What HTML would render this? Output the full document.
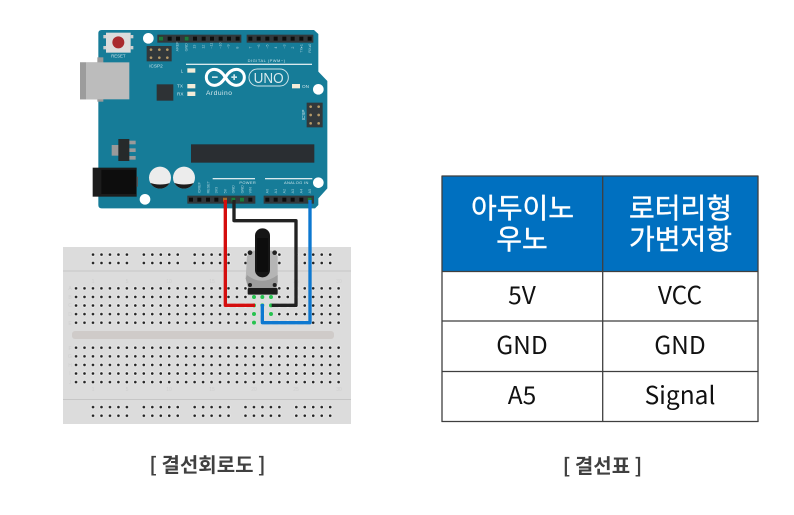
<!DOCTYPE html>
<html><head><meta charset="utf-8">
<style>
html,body{margin:0;padding:0;background:#fff;width:794px;height:515px;overflow:hidden}
svg{display:block}
text{font-family:"Liberation Sans","Noto Sans CJK KR",sans-serif}
.k{font-family:"Noto Sans CJK KR","Liberation Sans",sans-serif}
</style></head>
<body>
<svg width="794" height="515" viewBox="0 0 794 515" xmlns="http://www.w3.org/2000/svg">
<defs>
<filter id="b" x="-5%" y="-5%" width="110%" height="110%"><feGaussianBlur stdDeviation="0.35"/></filter>
<clipPath id="c1"><circle cx="240" cy="473" r="33"/></clipPath>
<clipPath id="c2"><circle cx="312" cy="473" r="33"/></clipPath>
<pattern id="pm" patternUnits="userSpaceOnUse" x="71.8" y="284" width="8.47" height="8.6">
  <circle cx="4.235" cy="4.3" r="2.1" fill="#f4f4f4"/><circle cx="4.235" cy="4.3" r="1.35" fill="#222"/>
</pattern>
<pattern id="pl" patternUnits="userSpaceOnUse" x="71.8" y="343.4" width="8.47" height="8.6">
  <circle cx="4.235" cy="4.3" r="2.1" fill="#f4f4f4"/><circle cx="4.235" cy="4.3" r="1.35" fill="#222"/>
</pattern>
<pattern id="pr" patternUnits="userSpaceOnUse" x="88.8" y="250.4" width="8.47" height="8.4">
  <circle cx="4.235" cy="4.2" r="2.1" fill="#f4f4f4"/><circle cx="4.235" cy="4.2" r="1.35" fill="#222"/>
</pattern>
<pattern id="pr2" patternUnits="userSpaceOnUse" x="88.8" y="402.8" width="8.47" height="8.6">
  <circle cx="4.235" cy="4.3" r="2.1" fill="#f4f4f4"/><circle cx="4.235" cy="4.3" r="1.35" fill="#222"/>
</pattern>
</defs>

<g filter="url(#b)">
<!-- Breadboard -->
<rect x="63" y="247" width="288" height="177" fill="#dcdcdc"/>
<rect x="63" y="270.5" width="288" height="1" fill="#c6c6c6"/>
<rect x="63" y="399" width="288" height="1" fill="#c6c6c6"/>
<rect x="72" y="331" width="262" height="8" rx="3" fill="#cfcbc9"/>
<rect x="71.8" y="284" width="271" height="43" fill="url(#pm)"/>
<rect x="71.8" y="343.4" width="271" height="43" fill="url(#pl)"/>
<g fill="url(#pr)">
<rect x="88.8" y="250.4" width="42.35" height="16.8"/>
<rect x="139.8" y="250.4" width="42.35" height="16.8"/>
<rect x="190.8" y="250.4" width="42.35" height="16.8"/>
<rect x="241.8" y="250.4" width="42.35" height="16.8"/>
<rect x="292.8" y="250.4" width="42.35" height="16.8"/>
</g>
<g fill="url(#pr2)">
<rect x="88.8" y="402.8" width="42.35" height="17.2"/>
<rect x="139.8" y="402.8" width="42.35" height="17.2"/>
<rect x="190.8" y="402.8" width="42.35" height="17.2"/>
<rect x="241.8" y="402.8" width="42.35" height="17.2"/>
<rect x="292.8" y="402.8" width="42.35" height="17.2"/>
</g>
<g font-size="5" fill="#cfcfcf" text-anchor="middle">
<text x="93" y="283">1</text><text x="127" y="283">5</text><text x="169" y="283">10</text><text x="212" y="283">15</text><text x="254" y="283">20</text><text x="296" y="283">25</text><text x="339" y="283">30</text>
<text x="93" y="391">1</text><text x="127" y="391">5</text><text x="169" y="391">10</text><text x="212" y="391">15</text><text x="254" y="391">20</text><text x="296" y="391">25</text><text x="339" y="391">30</text>
<text x="70" y="290">A</text><text x="70" y="299">B</text><text x="70" y="307">C</text><text x="70" y="316">D</text><text x="70" y="325">E</text>
<text x="70" y="350">F</text><text x="70" y="358">G</text><text x="70" y="367">H</text><text x="70" y="375">I</text><text x="70" y="384">J</text>
</g>

<!-- Arduino, coordinates in 3x crop units -->
<g transform="translate(80,20) scale(0.33333)">
<rect x="0" y="127" width="60" height="111" fill="#a9a9a9"/>
<path d="M65,30H702L715,42V155L742,183V505L715,535V555L705,565H65Q55,565 55,555V40Q55,30 65,30Z" fill="#127c98"/>
<rect x="52" y="112" width="18" height="20" fill="#9a9a9a"/>
<rect x="52" y="235" width="18" height="10" fill="#9a9a9a"/>
<rect x="0" y="127" width="18" height="111" fill="#9c9c9c"/>
<rect x="18" y="127" width="130" height="111" fill="#bcbcbc"/>
<!-- reset -->
<rect x="78" y="38" width="74" height="60" fill="#dcdcdc"/>
<rect x="70" y="45" width="8" height="10" fill="#cfcfcf"/><rect x="70" y="78" width="8" height="10" fill="#cfcfcf"/>
<rect x="152" y="45" width="8" height="10" fill="#cfcfcf"/><rect x="152" y="78" width="8" height="10" fill="#cfcfcf"/>
<circle cx="115" cy="67" r="18" fill="#a92a2e"/>
<text x="115" y="112" font-size="13" fill="#cfe4ea" text-anchor="middle">RESET</text>
<!-- holes -->
<circle cx="205" cy="55" r="16" fill="#fff"/><circle cx="715" cy="208" r="16" fill="#fff"/>
<circle cx="715" cy="488" r="16" fill="#fff"/><circle cx="195" cy="538" r="16" fill="#fff"/>
<!-- headers -->
<g fill="#33383a">
<rect x="232" y="44" width="252" height="24"/><rect x="500" y="44" width="200" height="24"/>
<rect x="322" y="527" width="204" height="24"/><rect x="551" y="527" width="151" height="24"/>
</g>
<g fill="#0d0d0d">
<rect x="237" y="50" width="12" height="12"/><rect x="263" y="50" width="12" height="12"/><rect x="288" y="50" width="12" height="12"/><rect x="314" y="50" width="12" height="12"/><rect x="339" y="50" width="12" height="12"/><rect x="365" y="50" width="12" height="12"/><rect x="390" y="50" width="12" height="12"/><rect x="416" y="50" width="12" height="12"/><rect x="441" y="50" width="12" height="12"/><rect x="467" y="50" width="12" height="12"/>
<rect x="505" y="50" width="12" height="12"/><rect x="530" y="50" width="12" height="12"/><rect x="556" y="50" width="12" height="12"/><rect x="581" y="50" width="12" height="12"/><rect x="607" y="50" width="12" height="12"/><rect x="632" y="50" width="12" height="12"/><rect x="658" y="50" width="12" height="12"/><rect x="683" y="50" width="12" height="12"/>
<rect x="327" y="533" width="12" height="12"/><rect x="352" y="533" width="12" height="12"/><rect x="378" y="533" width="12" height="12"/><rect x="403" y="533" width="12" height="12"/><rect x="429" y="533" width="12" height="12"/><rect x="454" y="533" width="12" height="12"/><rect x="480" y="533" width="12" height="12"/><rect x="505" y="533" width="12" height="12"/>
<rect x="556" y="533" width="12" height="12"/><rect x="581" y="533" width="12" height="12"/><rect x="607" y="533" width="12" height="12"/><rect x="632" y="533" width="12" height="12"/><rect x="658" y="533" width="12" height="12"/><rect x="683" y="533" width="12" height="12"/>
</g>
<g fill="#1f7a3a">
<rect x="237" y="50" width="12" height="12"/><rect x="314" y="50" width="12" height="12"/>
<rect x="454" y="533" width="12" height="12"/><rect x="480" y="533" width="12" height="12"/><rect x="683" y="533" width="12" height="12"/>
</g>
<rect x="429" y="533" width="12" height="12" fill="#a8682a"/>
<!-- ICSP -->
<rect x="200" y="78" width="75" height="46" fill="#33383a"/>
<rect x="680" y="248" width="48" height="74" fill="#33383a"/>
<g fill="#b59a68">
<circle cx="213" cy="89" r="4"/><circle cx="238" cy="89" r="4"/><circle cx="262" cy="89" r="4"/>
<circle cx="213" cy="113" r="4"/><circle cx="238" cy="113" r="4"/><circle cx="262" cy="113" r="4"/>
<circle cx="692" cy="260" r="4"/><circle cx="716" cy="260" r="4"/>
<circle cx="692" cy="285" r="4"/><circle cx="716" cy="285" r="4"/>
<circle cx="692" cy="310" r="4"/><circle cx="716" cy="310" r="4"/>
</g>
<text x="228" y="143" font-size="14" fill="#cfe4ea" text-anchor="middle">ICSP2</text>
<text transform="translate(675,285) rotate(-90)" font-size="14" fill="#cfe4ea" text-anchor="middle">ICSP</text>
<!-- labels -->
<g font-size="14" fill="#cfe4ea">
<text x="302" y="158">L</text><text x="291" y="203">TX</text><text x="291" y="227">RX</text><text x="666" y="204">ON</text>
<text x="503" y="126" font-size="12" letter-spacing="1.5">DIGITAL (PWM~)</text>
<text x="478" y="492" font-size="12" letter-spacing="1">POWER</text>
<text x="612" y="492" font-size="12" letter-spacing="1">ANALOG IN</text>
</g>
<g fill="#d9e9ed">
<rect x="318" y="131" width="378" height="4"/><rect x="398" y="474" width="127" height="4"/><rect x="555" y="474" width="142" height="4"/>
</g>
<g font-size="11" fill="#a9cfd9">
<text transform="translate(296,94) rotate(-90)">AREF</text><text transform="translate(322,94) rotate(-90)">GND</text>
<text transform="translate(347,86) rotate(-90)">13</text><text transform="translate(373,86) rotate(-90)">12</text><text transform="translate(398,86) rotate(-90)">~11</text><text transform="translate(424,86) rotate(-90)">~10</text><text transform="translate(449,86) rotate(-90)">~9</text><text transform="translate(475,86) rotate(-90)">8</text>
<text transform="translate(515,86) rotate(-90)">7</text><text transform="translate(540,86) rotate(-90)">~6</text><text transform="translate(566,86) rotate(-90)">~5</text><text transform="translate(591,86) rotate(-90)">4</text><text transform="translate(617,86) rotate(-90)">~3</text><text transform="translate(642,86) rotate(-90)">2</text><text transform="translate(668,98) rotate(-90)">TX▸1</text><text transform="translate(693,98) rotate(-90)">RX◂0</text>
<text transform="translate(362,520) rotate(-90)">IOREF</text><text transform="translate(388,520) rotate(-90)">RESET</text><text transform="translate(413,520) rotate(-90)">3V3</text><text transform="translate(439,520) rotate(-90)">5V</text><text transform="translate(464,520) rotate(-90)">GND</text><text transform="translate(490,520) rotate(-90)">GND</text><text transform="translate(515,520) rotate(-90)">VIN</text>
<text transform="translate(566,520) rotate(-90)">A0</text><text transform="translate(591,520) rotate(-90)">A1</text><text transform="translate(617,520) rotate(-90)">A2</text><text transform="translate(642,520) rotate(-90)">A3</text><text transform="translate(668,520) rotate(-90)">A4</text><text transform="translate(693,520) rotate(-90)">A5</text>
</g>
<!-- LEDs -->
<g fill="#f3ecd8">
<rect x="322" y="145" width="24" height="13"/><rect x="322" y="192" width="24" height="13"/><rect x="322" y="215" width="24" height="13"/><rect x="636" y="192" width="24" height="13"/>
</g>
<!-- logo -->
<g fill="none" stroke="#fff">
<path d="M436,172C424,152 412,148 403,148C389,148 379,159 379,172C379,185 389,196 403,196C412,196 424,192 436,172C448,152 460,148 469,148C483,148 493,159 493,172C493,185 483,196 469,196C460,196 448,192 436,172Z" stroke-width="9"/>
<rect x="507" y="147" width="118" height="51" rx="25" stroke="#cfe4ea" stroke-width="3"/>
</g>
<rect x="396" y="169" width="17" height="5" fill="#cfe4ea"/>
<rect x="454" y="169" width="17" height="5" fill="#cfe4ea"/><rect x="460" y="163" width="5" height="17" fill="#cfe4ea"/>
<text x="566" y="189" font-size="44" fill="#d9e9ed" text-anchor="middle" textLength="90" lengthAdjust="spacingAndGlyphs">UNO</text>
<text x="378" y="225" font-size="20" fill="#d9e9ed" letter-spacing="1.5">Arduino</text>
<!-- chips -->
<rect x="230" y="193" width="50" height="49" fill="#2f3335"/>
<rect x="333" y="373" width="370" height="55" fill="#2b2f31"/>
<rect x="95" y="375" width="22" height="32" fill="#9a9a9a"/>
<rect x="147" y="362" width="20" height="11" fill="#9a9a9a"/><rect x="147" y="385" width="20" height="11" fill="#9a9a9a"/><rect x="147" y="408" width="20" height="11" fill="#9a9a9a"/>
<rect x="115" y="357" width="33" height="66" fill="#262a2c"/>
<!-- jack -->
<rect x="38" y="443" width="132" height="87" fill="#1a1a1a"/>
<rect x="64" y="450" width="104" height="72" fill="#111"/>
<rect x="170" y="470" width="4" height="30" fill="#555"/>
<!-- caps -->
<g clip-path="url(#c1)"><rect x="205" y="438" width="70" height="70" fill="#ececec"/><path d="M205,487Q240,500 275,487V510H205Z" fill="#1a1a1a"/></g>
<g clip-path="url(#c2)"><rect x="277" y="438" width="70" height="70" fill="#ececec"/><path d="M277,487Q312,500 347,487V510H277Z" fill="#1a1a1a"/></g>
</g>

<!-- Potentiometer + wires, coordinates in 3x crop units -->
<g transform="translate(55,200) scale(0.33333)">
<path d="M595,152H650L668,168V245L664,266H580L572,235L576,168Z" fill="#b5b5b5"/>
<path d="M576,225Q620,260 668,225V245L664,266H580L572,235Z" fill="#9d9d9d"/>
<circle cx="585" cy="158" r="7" fill="#222"/><circle cx="659" cy="158" r="7" fill="#222"/>
<circle cx="585" cy="255" r="6" fill="#222"/><circle cx="659" cy="255" r="6" fill="#222"/>
<rect x="578" y="264" width="90" height="20" rx="4" fill="#1b1b1b"/>
<rect x="600" y="85" width="45" height="147" rx="22" fill="#151515"/>
<rect x="606" y="115" width="33" height="100" fill="#0a0a0a"/>
<g fill="#27c24f">
<circle cx="597" cy="291" r="6"/><circle cx="622" cy="291" r="6"/><circle cx="648" cy="291" r="6"/>
<circle cx="597" cy="316" r="6"/><circle cx="622" cy="316" r="6"/><circle cx="648" cy="316" r="6"/>
<circle cx="597" cy="342" r="6"/><circle cx="648" cy="342" r="6"/>
<circle cx="597" cy="368" r="6"/>
</g>
<g fill="none" stroke-linejoin="round" stroke-width="10">
<path d="M511,0V316H600" stroke="#d40a0a"/>
<path d="M537,0V62H723V316H650" stroke="#222"/>
<path d="M765,0V368H622V312" stroke="#0878d0"/>
</g>
</g>
</g>

<!-- Table -->
<rect x="442" y="176" width="316" height="95" fill="#0070c0"/>
<g stroke="#3f3f3f" stroke-width="1.3" fill="none">
<path d="M441.5,176H758.5M441.5,271.5H758.5M441.5,321H758.5M441.5,371.5H758.5M441.5,421.5H758.5"/>
<path d="M442,176V422M602.7,176V422M758,176V422"/>
</g>
<g class="k" text-anchor="middle">
<g font-size="28" fill="#fff" stroke="#fff" stroke-width="0.4">
<text class="k" x="522.5" y="218">아두이노</text>
<text class="k" x="522" y="249">우노</text>
<text class="k" x="680.5" y="218">로터리형</text>
<text class="k" x="680.5" y="249">가변저항</text>
</g>
<g font-size="24.5" fill="#111">
<text class="k" x="522" y="304">5V</text><text class="k" x="680" y="304">VCC</text>
<text class="k" x="522" y="354">GND</text><text class="k" x="680" y="354">GND</text>
<text class="k" x="522" y="404">A5</text><text class="k" x="680" y="404">Signal</text>
</g>
<g font-size="20" fill="#404040" font-weight="700">
<text class="k" x="207.5" y="472">[ 결선회로도 ]</text>
<text class="k" x="602.5" y="473">[ 결선표 ]</text>
</g>
</g>
</svg>
</body></html>
